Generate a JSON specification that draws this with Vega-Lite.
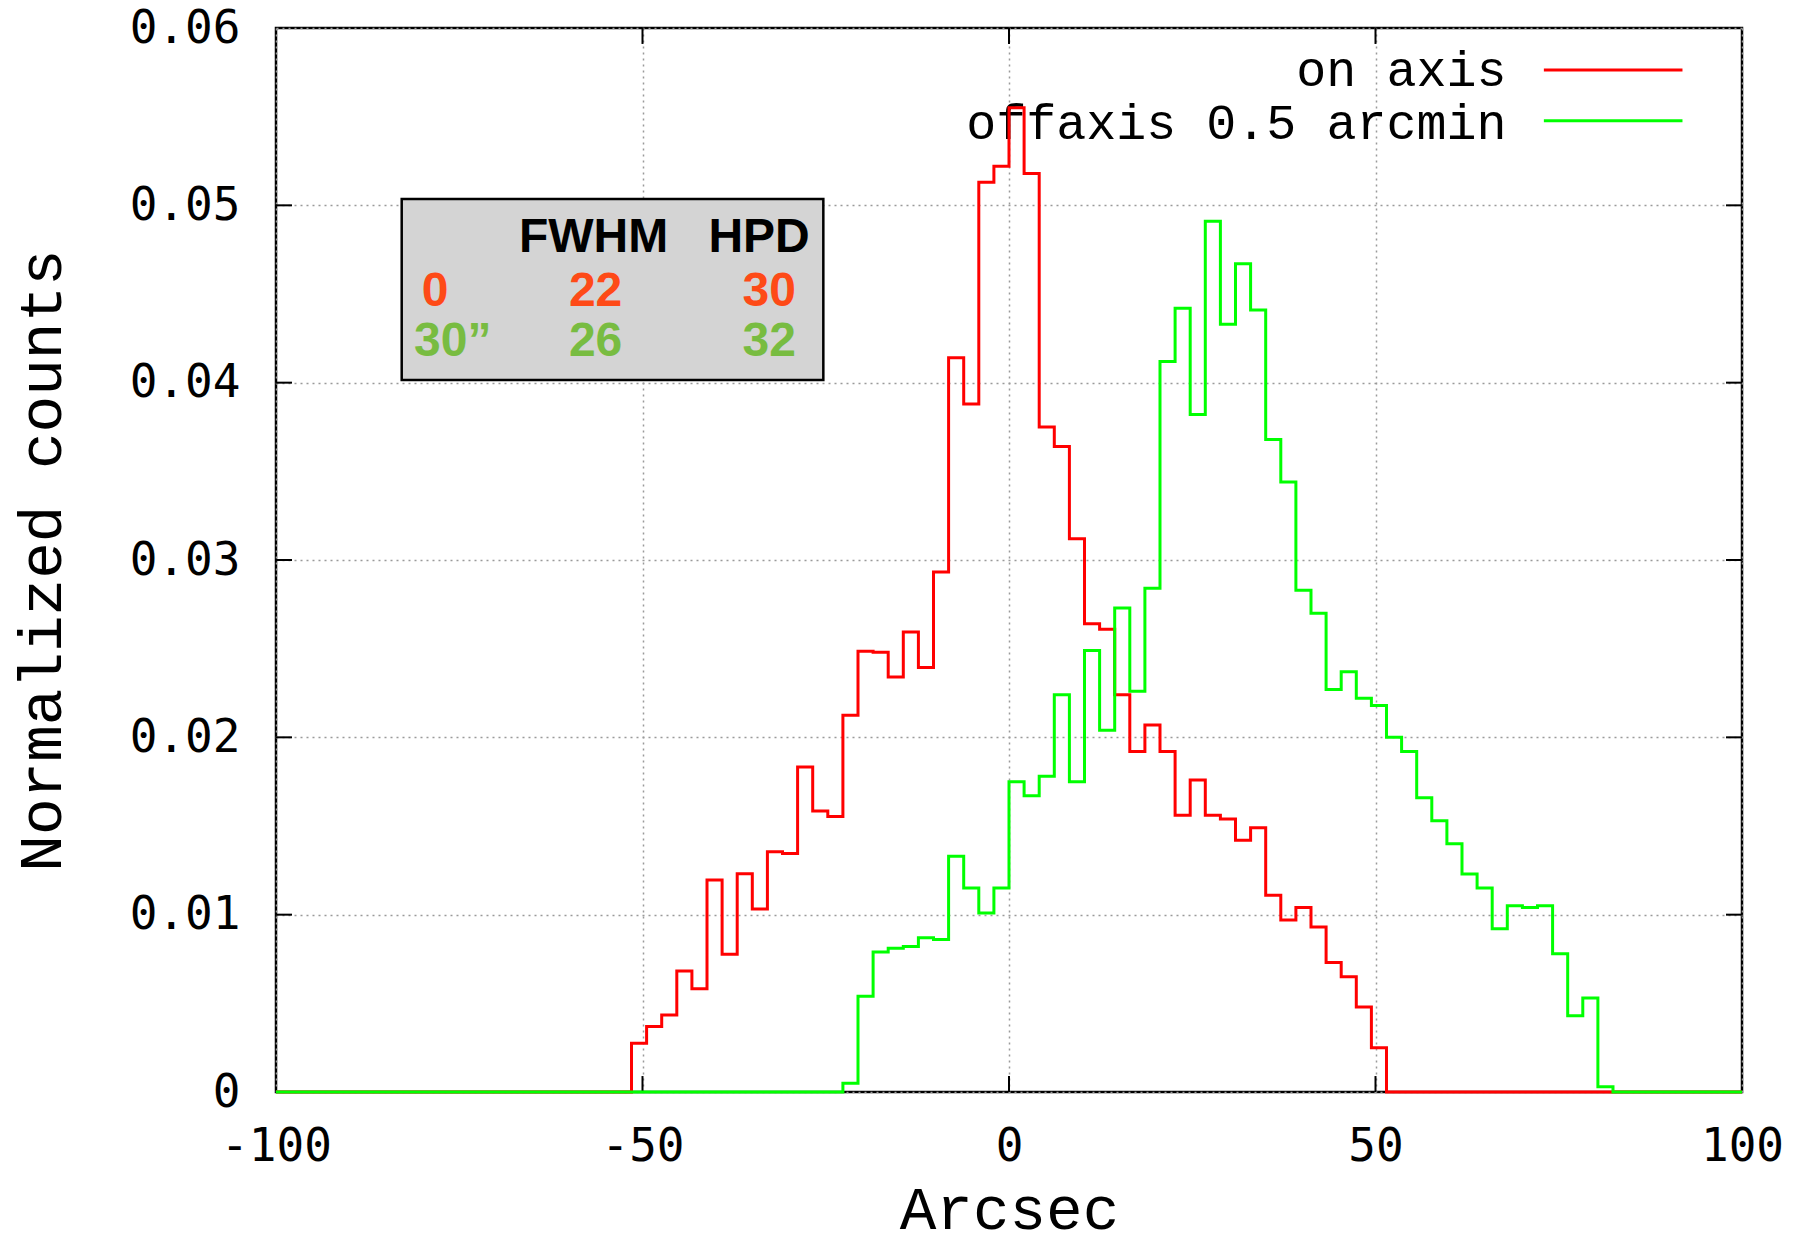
{
  "$schema": "https://vega.github.io/schema/vega-lite/v6.json",
  "width": 1466,
  "height": 1064,
  "autosize": {"type": "none"},
  "padding": {"left": 276, "top": 28, "right": 62, "bottom": 153},
  "background": "white",
  "config": {
    "view": {"stroke": "#000000", "strokeWidth": 2.5},
    "axis": {
      "grid": true,
      "gridDash": [2, 4],
      "gridColor": "#9a9a9a",
      "gridWidth": 1.5,
      "ticks": false,
      "domain": false,
      "labelFont": "DejaVu Sans Mono",
      "labelFontSize": 46,
      "labelColor": "#000000",
      "labelFlush": false,
      "labelOverlap": false,
      "labelBound": false,
      "titleFont": "Liberation Mono",
      "titleFontSize": 61,
      "titleFontWeight": "normal",
      "titleColor": "#000000"
    }
  },
  "datasets": {
    "onaxis": [
      {"x": -100, "y": 0},
      {"x": -51.5, "y": 0.00275},
      {"x": -49.44, "y": 0.00369},
      {"x": -47.38, "y": 0.00434},
      {"x": -45.32, "y": 0.00683},
      {"x": -43.26, "y": 0.00582},
      {"x": -41.2, "y": 0.01195},
      {"x": -39.14, "y": 0.00777},
      {"x": -37.08, "y": 0.01231},
      {"x": -35.02, "y": 0.01032},
      {"x": -32.96, "y": 0.01355},
      {"x": -30.9, "y": 0.01345},
      {"x": -28.84, "y": 0.01833},
      {"x": -26.78, "y": 0.01584},
      {"x": -24.72, "y": 0.01554},
      {"x": -22.66, "y": 0.02125},
      {"x": -20.6, "y": 0.02486},
      {"x": -18.54, "y": 0.0248},
      {"x": -16.48, "y": 0.0234},
      {"x": -14.42, "y": 0.02594},
      {"x": -12.36, "y": 0.02394},
      {"x": -10.3, "y": 0.02932},
      {"x": -8.24, "y": 0.0414},
      {"x": -6.18, "y": 0.0388},
      {"x": -4.12, "y": 0.0513},
      {"x": -2.06, "y": 0.0522},
      {"x": 0, "y": 0.0555},
      {"x": 2.06, "y": 0.0518},
      {"x": 4.12, "y": 0.0375},
      {"x": 6.18, "y": 0.0364},
      {"x": 8.24, "y": 0.0312},
      {"x": 10.3, "y": 0.0264},
      {"x": 12.36, "y": 0.0261},
      {"x": 14.42, "y": 0.0224},
      {"x": 16.48, "y": 0.0192},
      {"x": 18.54, "y": 0.0207},
      {"x": 20.6, "y": 0.0192},
      {"x": 22.66, "y": 0.0156},
      {"x": 24.72, "y": 0.0176},
      {"x": 26.78, "y": 0.0156},
      {"x": 28.84, "y": 0.0154},
      {"x": 30.9, "y": 0.0142},
      {"x": 32.96, "y": 0.0149},
      {"x": 35.02, "y": 0.0111},
      {"x": 37.08, "y": 0.0097},
      {"x": 39.14, "y": 0.0104},
      {"x": 41.2, "y": 0.0093},
      {"x": 43.26, "y": 0.0073},
      {"x": 45.32, "y": 0.0065},
      {"x": 47.38, "y": 0.0048},
      {"x": 49.44, "y": 0.0025},
      {"x": 51.5, "y": 0},
      {"x": 100, "y": 0}
    ],
    "offaxis": [
      {"x": -100, "y": 0},
      {"x": -22.66, "y": 0.0005},
      {"x": -20.6, "y": 0.0054},
      {"x": -18.54, "y": 0.0079},
      {"x": -16.48, "y": 0.0081},
      {"x": -14.42, "y": 0.0082},
      {"x": -12.36, "y": 0.0087},
      {"x": -10.3, "y": 0.0086},
      {"x": -8.24, "y": 0.0133},
      {"x": -6.18, "y": 0.0115},
      {"x": -4.12, "y": 0.0101},
      {"x": -2.06, "y": 0.0115},
      {"x": 0, "y": 0.0175},
      {"x": 2.06, "y": 0.0167},
      {"x": 4.12, "y": 0.0178},
      {"x": 6.18, "y": 0.0224},
      {"x": 8.24, "y": 0.0175},
      {"x": 10.3, "y": 0.0249},
      {"x": 12.36, "y": 0.0204},
      {"x": 14.42, "y": 0.0273},
      {"x": 16.48, "y": 0.0226},
      {"x": 18.54, "y": 0.0284},
      {"x": 20.6, "y": 0.0412},
      {"x": 22.66, "y": 0.0442},
      {"x": 24.72, "y": 0.0382},
      {"x": 26.78, "y": 0.0491},
      {"x": 28.84, "y": 0.0433},
      {"x": 30.9, "y": 0.0467},
      {"x": 32.96, "y": 0.0441},
      {"x": 35.02, "y": 0.0368},
      {"x": 37.08, "y": 0.0344},
      {"x": 39.14, "y": 0.0283},
      {"x": 41.2, "y": 0.027},
      {"x": 43.26, "y": 0.0227},
      {"x": 45.32, "y": 0.0237},
      {"x": 47.38, "y": 0.0222},
      {"x": 49.44, "y": 0.0218},
      {"x": 51.5, "y": 0.02},
      {"x": 53.56, "y": 0.0192},
      {"x": 55.62, "y": 0.0166},
      {"x": 57.68, "y": 0.0153},
      {"x": 59.74, "y": 0.014},
      {"x": 61.8, "y": 0.0123},
      {"x": 63.86, "y": 0.0115},
      {"x": 65.92, "y": 0.0092},
      {"x": 67.98, "y": 0.0105},
      {"x": 70.04, "y": 0.0104},
      {"x": 72.1, "y": 0.0105},
      {"x": 74.16, "y": 0.0078},
      {"x": 76.22, "y": 0.0043},
      {"x": 78.28, "y": 0.0053},
      {"x": 80.34, "y": 0.0003},
      {"x": 82.4, "y": 0},
      {"x": 100, "y": 0}
    ],
    "one": [{}],
    "yticks": [{"t": 0.01}, {"t": 0.02}, {"t": 0.03}, {"t": 0.04}, {"t": 0.05}],
    "xticks": [{"t": -50}, {"t": 0}, {"t": 50}]
  },
  "layer": [
    {
      "data": {"name": "onaxis"},
      "mark": {"type": "line", "interpolate": "step-after", "strokeWidth": 0, "opacity": 0},
      "encoding": {
        "x": {
          "field": "x", "type": "quantitative",
          "scale": {"domain": [-100, 100], "nice": false, "zero": false},
          "axis": {
            "values": [-100, -50, 0, 50, 100],
            "labelPadding": 32,
            "labelExpr": "'' + datum.value",
            "title": "Arcsec",
            "titleY": 136,
            "titleBaseline": "alphabetic"
          }
        },
        "y": {
          "field": "y", "type": "quantitative",
          "scale": {"domain": [0, 0.06], "nice": false, "zero": true},
          "axis": {
            "values": [0, 0.01, 0.02, 0.03, 0.04, 0.05, 0.06],
            "labelPadding": 36,
            "labelExpr": "'' + datum.value",
            "title": "Normalized counts",
            "titleX": -216,
            "titleY": 532,
            "titleAngle": -90,
            "titleBaseline": "alphabetic",
            "titleAlign": "center"
          }
        }
      }
    },
    {
      "data": {"name": "one"},
      "mark": {"type": "rect", "fill": "#d4d4d4", "stroke": "#000000", "strokeWidth": 2.5},
      "encoding": {
        "x": {"datum": -82.85, "type": "quantitative"},
        "x2": {"datum": -25.33},
        "y": {"datum": 0.05036, "type": "quantitative"},
        "y2": {"datum": 0.04015}
      }
    },
    {
      "data": {"name": "one"},
      "mark": {"type": "text", "text": "FWHM", "font": "Liberation Sans", "fontWeight": "bold", "fontSize": 48, "align": "center", "baseline": "alphabetic", "color": "#000000"},
      "encoding": {"x": {"datum": -56.68, "type": "quantitative"}, "y": {"datum": 0.04739, "type": "quantitative"}}
    },
    {
      "data": {"name": "one"},
      "mark": {"type": "text", "text": "HPD", "font": "Liberation Sans", "fontWeight": "bold", "fontSize": 48, "align": "center", "baseline": "alphabetic", "color": "#000000"},
      "encoding": {"x": {"datum": -34.1, "type": "quantitative"}, "y": {"datum": 0.04739, "type": "quantitative"}}
    },
    {
      "data": {"name": "one"},
      "mark": {"type": "text", "text": "0", "font": "Liberation Sans", "fontWeight": "bold", "fontSize": 48, "align": "center", "baseline": "alphabetic", "color": "#fe4a17"},
      "encoding": {"x": {"datum": -78.3, "type": "quantitative"}, "y": {"datum": 0.04432, "type": "quantitative"}}
    },
    {
      "data": {"name": "one"},
      "mark": {"type": "text", "text": "22", "font": "Liberation Sans", "fontWeight": "bold", "fontSize": 48, "align": "center", "baseline": "alphabetic", "color": "#fe4a17"},
      "encoding": {"x": {"datum": -56.4, "type": "quantitative"}, "y": {"datum": 0.04432, "type": "quantitative"}}
    },
    {
      "data": {"name": "one"},
      "mark": {"type": "text", "text": "30", "font": "Liberation Sans", "fontWeight": "bold", "fontSize": 48, "align": "center", "baseline": "alphabetic", "color": "#fe4a17"},
      "encoding": {"x": {"datum": -32.7, "type": "quantitative"}, "y": {"datum": 0.04432, "type": "quantitative"}}
    },
    {
      "data": {"name": "one"},
      "mark": {"type": "text", "text": "30”", "font": "Liberation Sans", "fontWeight": "bold", "fontSize": 48, "align": "left", "baseline": "alphabetic", "color": "#78bc41"},
      "encoding": {"x": {"datum": -81.17, "type": "quantitative"}, "y": {"datum": 0.04152, "type": "quantitative"}}
    },
    {
      "data": {"name": "one"},
      "mark": {"type": "text", "text": "26", "font": "Liberation Sans", "fontWeight": "bold", "fontSize": 48, "align": "center", "baseline": "alphabetic", "color": "#78bc41"},
      "encoding": {"x": {"datum": -56.4, "type": "quantitative"}, "y": {"datum": 0.04152, "type": "quantitative"}}
    },
    {
      "data": {"name": "one"},
      "mark": {"type": "text", "text": "32", "font": "Liberation Sans", "fontWeight": "bold", "fontSize": 48, "align": "center", "baseline": "alphabetic", "color": "#78bc41"},
      "encoding": {"x": {"datum": -32.7, "type": "quantitative"}, "y": {"datum": 0.04152, "type": "quantitative"}}
    },
    {
      "data": {"name": "one"},
      "mark": {"type": "text", "text": "on axis", "font": "Liberation Mono", "fontSize": 50, "align": "right", "baseline": "alphabetic", "color": "#000000"},
      "encoding": {"x": {"datum": 67.86, "type": "quantitative"}, "y": {"datum": 0.05672, "type": "quantitative"}}
    },
    {
      "data": {"name": "one"},
      "mark": {"type": "text", "text": "offaxis 0.5 arcmin", "font": "Liberation Mono", "fontSize": 50, "align": "right", "baseline": "alphabetic", "color": "#000000"},
      "encoding": {"x": {"datum": 67.86, "type": "quantitative"}, "y": {"datum": 0.05372, "type": "quantitative"}}
    },
    {
      "data": {"name": "one"},
      "mark": {"type": "rule", "color": "#ff0000", "strokeWidth": 3},
      "encoding": {
        "x": {"datum": 72.97, "type": "quantitative"}, "x2": {"datum": 91.88},
        "y": {"datum": 0.05763, "type": "quantitative"}
      }
    },
    {
      "data": {"name": "one"},
      "mark": {"type": "rule", "color": "#00ff00", "strokeWidth": 3},
      "encoding": {
        "x": {"datum": 72.97, "type": "quantitative"}, "x2": {"datum": 91.88},
        "y": {"datum": 0.05477, "type": "quantitative"}
      }
    },
    {
      "data": {"name": "yticks"},
      "mark": {"type": "rule", "color": "#000000", "strokeWidth": 2},
      "encoding": {
        "x": {"datum": -100, "type": "quantitative"}, "x2": {"datum": -97.82},
        "y": {"field": "t", "type": "quantitative"}
      }
    },
    {
      "data": {"name": "yticks"},
      "mark": {"type": "rule", "color": "#000000", "strokeWidth": 2},
      "encoding": {
        "x": {"datum": 97.82, "type": "quantitative"}, "x2": {"datum": 100},
        "y": {"field": "t", "type": "quantitative"}
      }
    },
    {
      "data": {"name": "xticks"},
      "mark": {"type": "rule", "color": "#000000", "strokeWidth": 2},
      "encoding": {
        "x": {"field": "t", "type": "quantitative"},
        "y": {"datum": 0, "type": "quantitative"}, "y2": {"datum": 0.0009}
      }
    },
    {
      "data": {"name": "xticks"},
      "mark": {"type": "rule", "color": "#000000", "strokeWidth": 2},
      "encoding": {
        "x": {"field": "t", "type": "quantitative"},
        "y": {"datum": 0.0591, "type": "quantitative"}, "y2": {"datum": 0.06}
      }
    },
    {
      "data": {"name": "onaxis"},
      "mark": {"type": "line", "interpolate": "step-after", "color": "#ff0000", "strokeWidth": 3},
      "encoding": {
        "x": {"field": "x", "type": "quantitative"},
        "y": {"field": "y", "type": "quantitative"}
      }
    },
    {
      "data": {"name": "offaxis"},
      "mark": {"type": "line", "interpolate": "step-after", "color": "#00ff00", "strokeWidth": 3},
      "encoding": {
        "x": {"field": "x", "type": "quantitative"},
        "y": {"field": "y", "type": "quantitative"}
      }
    }
  ]
}
